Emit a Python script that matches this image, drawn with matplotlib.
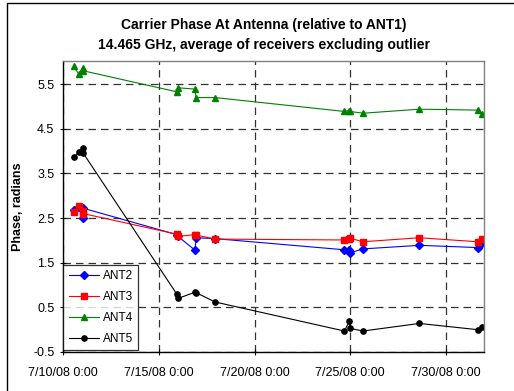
import matplotlib
matplotlib.use("Agg")
import matplotlib.pyplot as plt
from matplotlib.patches import Rectangle
from datetime import datetime, timedelta

# ---- data ----
start = datetime(2008, 7, 10)
day_offsets = [0.54, 0.82, 1.01, 1.05, 5.93, 6.00, 6.89, 6.94, 7.94,
               14.70, 14.96, 14.99, 15.67, 18.62, 21.67, 21.87]
ant2 = [2.69, 2.75, 2.50, 2.72, 2.13, 2.09, 1.78, 2.06, 2.04,
        1.79, 1.78, 1.72, 1.81, 1.89, 1.84, 1.95]
ant3 = [2.63, 2.76, 2.65, 2.60, 2.14, 2.09, 2.13, 2.12, 2.03,
        2.01, 2.04, 2.05, 1.97, 2.06, 1.97, 2.04]
ant4 = [5.90, 5.72, 5.87, 5.80, 5.33, 5.42, 5.39, 5.20, 5.20,
        4.89, 4.91, 4.89, 4.85, 4.94, 4.92, 4.84]
ant5 = [3.86, 3.97, 4.06, 3.95, 0.80, 0.70, 0.84, 0.83, 0.62,
        -0.03, 0.19, 0.03, -0.03, 0.14, 0.00, 0.06]
series_names = ["ANT2", "ANT3", "ANT4", "ANT5"]
xtick_dates = [datetime(2008, 7, 10), datetime(2008, 7, 15), datetime(2008, 7, 20),
               datetime(2008, 7, 25), datetime(2008, 7, 30)]
xtick_labels = ["7/10/08 0:00", "7/15/08 0:00", "7/20/08 0:00", "7/25/08 0:00", "7/30/08 0:00"]
ytick_vals = [-0.5, 0.5, 1.5, 2.5, 3.5, 4.5, 5.5]
title_lines = ["Carrier Phase At Antenna (relative to ANT1)",
               "14.465 GHz, average of receivers excluding outlier"]
ylabel = "Phase, radians"

times = [start + timedelta(days=d) for d in day_offsets]

plt.rcParams['font.family'] = ['Liberation Sans', 'DejaVu Sans']

fig = plt.figure(figsize=(5.14, 3.91), dpi=100)
ax = fig.add_axes([63.3/514, 1-352/391, (484-63.3)/514, (352-61)/391])

# outer chart frame
fig.patches.append(Rectangle((7/514, -0.1), 1.2, 1-3/391+0.1, transform=fig.transFigure,
                             fill=False, edgecolor='black', linewidth=1.0))

styles = [
    dict(color='#0000ff', marker='D', markersize=3.8),
    dict(color='#ff0000', marker='s', markersize=4.8),
    dict(color='#008000', marker='^', markersize=5.0),
    dict(color='#000000', marker='o', markersize=3.8),
]
for name, vals, st in zip(series_names, [ant2, ant3, ant4, ant5], styles):
    ax.plot(times, vals, color=st['color'], marker=st['marker'], markersize=st['markersize'],
            markerfacecolor=st['color'], markeredgecolor=st['color'], linewidth=0.8, label=name)

ax.set_xlim(datetime(2008, 7, 10), datetime(2008, 8, 1))
ax.set_ylim(-0.5, 6.02)
ax.set_xticks(xtick_dates)
ax.set_xticklabels(xtick_labels)
ax.set_yticks(ytick_vals)
ax.set_yticklabels([f"{v:.1f}" for v in ytick_vals])
ax.tick_params(axis='both', direction='inout', length=5, width=0.8, labelsize=9, pad=4)
ax.tick_params(axis='x', pad=8)

ax.grid(True, color='#333333', linestyle=(0, (6, 4)), linewidth=0.9)
ax.set_axisbelow(True)
for s in ['left', 'bottom']:
    ax.spines[s].set_color('black')
    ax.spines[s].set_linewidth(1.0)
for s in ['top', 'right']:
    ax.spines[s].set_color('#808080')
    ax.spines[s].set_linewidth(1.0)

leg = ax.legend(loc='lower left', bbox_to_anchor=(0.0, 0.006), borderaxespad=0,
                fontsize=8.5, frameon=True, fancybox=False, edgecolor='black',
                handlelength=2.6, handletextpad=0.3, labelspacing=0.75,
                borderpad=0.45)
leg.get_frame().set_linewidth(0.9)

fig.text(264/514, 1-25/391, title_lines[0], ha='center', va='center', fontsize=10, fontweight='bold')
fig.text(264/514, 1-45/391, title_lines[1], ha='center', va='center', fontsize=10, fontweight='bold')
fig.text(18/514, 1-206.5/391, ylabel, ha='center', va='center', rotation=90, fontsize=9, fontweight='bold')

fig.savefig("out.png", dpi=100)
